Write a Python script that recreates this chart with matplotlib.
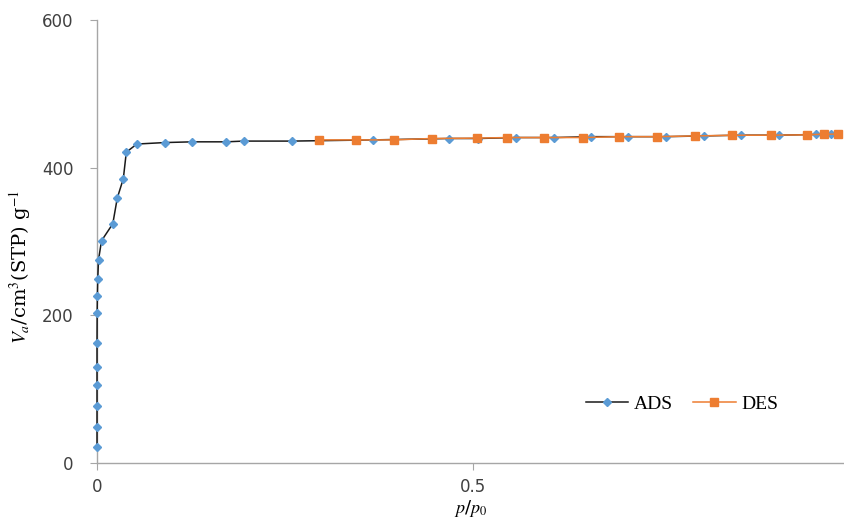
import numpy as np
import matplotlib
matplotlib.use('Agg')
import matplotlib.pyplot as plt

# adsorption branch
p_ads = [0.0, 0.0, 0.0, 0.0, 0.0, 0.0, 0.0002, 0.0005, 0.001, 0.002, 0.006,
         0.021, 0.027, 0.035, 0.039, 0.053, 0.090, 0.127, 0.172, 0.195, 0.260,
         0.367, 0.468, 0.507, 0.557, 0.608, 0.657, 0.707, 0.757, 0.807, 0.856,
         0.907, 0.956, 0.977]
v_ads = [22, 49, 77, 106, 130, 162, 203, 226, 249, 275, 301,
         324, 359, 385, 421, 432, 434, 435, 435, 436, 436,
         437.6, 439.5, 439.5, 440.8, 440.8, 442, 442, 442, 443, 444,
         444, 445, 445.4]

# desorption branch
p_des = [0.986, 0.967, 0.945, 0.896, 0.845, 0.796, 0.745, 0.695, 0.646,
         0.595, 0.546, 0.505, 0.445, 0.395, 0.344, 0.295]
v_des = [445.4, 445.4, 444.5, 444, 443.9, 443, 442, 442, 440.8,
         440.8, 440.8, 440, 439.5, 437.6, 437.6, 437.6]

x_ticks = [0, 0.5]
y_ticks = [0, 200, 400, 600]

plt.rcParams['mathtext.fontset'] = 'stix'

fig = plt.figure(figsize=(8.45, 5.18), dpi=100)
ax = fig.add_axes([97/845, 1-463/518, 1-97/845, (463-20)/518])

ax.plot(p_ads, v_ads, color='#1a1a1a', lw=1.1, marker='D', ms=4.3,
        mfc='#5b9bd5', mec='#5b9bd5', label='ADS', clip_on=False, zorder=3)
ax.plot(p_des, v_des, color='#ed7d31', lw=1.1, marker='s', ms=5.5,
        mfc='#ed7d31', mec='#ed7d31', label='DES', clip_on=False, zorder=4)

ax.set_xlim(0, 0.995)
ax.set_ylim(0, 600)
ax.set_xticks(x_ticks)
ax.set_xticklabels(['0', '0.5'])
ax.set_yticks(y_ticks)

for s in ['top', 'right']:
    ax.spines[s].set_visible(False)
for s in ['left', 'bottom']:
    ax.spines[s].set_color('#a6a6a6')
    ax.spines[s].set_linewidth(1.0)
ax.tick_params(axis='both', colors='#a6a6a6', labelcolor='#404040',
               labelsize=12, length=5, direction='out')
ax.tick_params(axis='y', pad=12)
ax.tick_params(axis='x', pad=6)

ax.set_ylabel(r'$V_a$/cm$^3$(STP) g$^{-1}$', fontsize=14, family='serif')
ax.yaxis.set_label_coords(-0.086, 0.442)
ax.set_xlabel(r'$p$/$p_0$', fontsize=13, labelpad=1)

leg = ax.legend(loc='center', bbox_to_anchor=(682/845, 1-404/518),
                bbox_transform=fig.transFigure, ncol=2, frameon=False,
                prop={'family': 'Liberation Serif', 'size': 14},
                handlelength=2.2, columnspacing=1.0, handletextpad=0.3)

fig.savefig('out.png', dpi=100)
